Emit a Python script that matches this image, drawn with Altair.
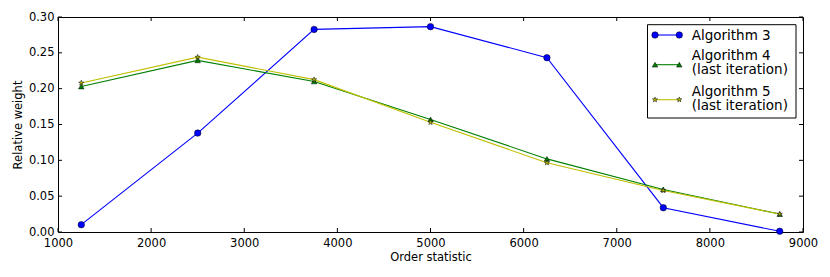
import altair as alt
import pandas as pd

x_vals = [1250, 2500, 3750, 5000, 6250, 7500, 8750]
alg3 = [0.0102, 0.138, 0.2827, 0.2865, 0.2433, 0.0339, 0.001]
alg4 = [0.203, 0.2395, 0.210, 0.157, 0.102, 0.0594, 0.025]
alg5 = [0.208, 0.244, 0.2126, 0.153, 0.0966, 0.058, 0.025]
series_names = ["Algorithm 3", "Algorithm 4", "Algorithm 5"]
legend_lines = [["Algorithm 3"], ["Algorithm 4", "(last iteration)"], ["Algorithm 5", "(last iteration)"]]
x_ticks = [1000, 2000, 3000, 4000, 5000, 6000, 7000, 8000, 9000]
y_ticks = [0.0, 0.05, 0.10, 0.15, 0.20, 0.25, 0.30]

W, H = 745, 215
FONT = "DejaVu Sans"

STAR = ("M0,-1L0.2245,-0.309L0.951,-0.309L0.363,0.118L0.588,0.809L0,0.382"
        "L-0.588,0.809L-0.363,0.118L-0.951,-0.309L-0.2245,-0.309Z")
colors = ["#0000ff", "#008000", "#bfbf00"]
shapes = ["circle", "triangle-up", STAR]
sizes = [42, 30, 30]

xs = alt.Scale(domain=[1000, 9000], nice=False, zero=False)
ys = alt.Scale(domain=[0, 0.30], nice=False)

x_axis = alt.Axis(values=x_ticks, format="d", title="Order statistic",
                  grid=False, ticks=False, domain=False,
                  labelFlush=False, labelOverlap=False,
                  labelPadding=5, titlePadding=3)
y_axis = alt.Axis(values=y_ticks, format=".2f", title="Relative weight",
                  grid=False, ticks=False, domain=False,
                  labelFlush=False, labelOverlap=False,
                  labelPadding=4, titlePadding=5)

layers = []
for i, (name, vals) in enumerate(zip(series_names, [alg3, alg4, alg5])):
    df = pd.DataFrame({"x": x_vals, "y": vals, "s": name})
    base = alt.Chart(df).encode(
        x=alt.X("x:Q", scale=xs, axis=x_axis),
        y=alt.Y("y:Q", scale=ys, axis=y_axis),
    )
    layers.append(base.mark_line(color=colors[i], strokeWidth=1.1))
    layers.append(base.mark_point(shape=shapes[i], filled=True, fill=colors[i],
                                  stroke="black", strokeWidth=0.5, size=sizes[i], opacity=1))

# inside ticks on all four sides
xt = pd.DataFrame({"v": x_ticks})
yt = pd.DataFrame({"v": y_ticks})
tick_style = dict(color="black", strokeWidth=1)
layers.append(alt.Chart(xt).mark_rule(**tick_style).encode(
    x=alt.X("v:Q", scale=xs, axis=x_axis), y=alt.value(H), y2=alt.value(H - 4)))
layers.append(alt.Chart(xt).mark_rule(**tick_style).encode(
    x=alt.X("v:Q", scale=xs, axis=x_axis), y=alt.value(0), y2=alt.value(4)))
layers.append(alt.Chart(yt).mark_rule(**tick_style).encode(
    y=alt.Y("v:Q", scale=ys, axis=y_axis), x=alt.value(0), x2=alt.value(4)))
layers.append(alt.Chart(yt).mark_rule(**tick_style).encode(
    y=alt.Y("v:Q", scale=ys, axis=y_axis), x=alt.value(W), x2=alt.value(W - 4)))

# legend box
one = pd.DataFrame({"a": [0]})
layers.append(alt.Chart(one).mark_rect(fill="white", stroke="black", strokeWidth=1).encode(
    x=alt.value(589.5), x2=alt.value(738), y=alt.value(7.7), y2=alt.value(101)))

marker_y = [18, 47.7, 82.7]
text_baselines = [22.7, 42.7, 78.7]
for i in range(3):
    layers.append(alt.Chart(one).mark_rule(color=colors[i], strokeWidth=1.1).encode(
        x=alt.value(597), x2=alt.value(621.3), y=alt.value(marker_y[i])))
    for mx in (597, 621.3):
        layers.append(alt.Chart(one).mark_point(shape=shapes[i], filled=True, fill=colors[i],
                                                stroke="black", strokeWidth=0.5,
                                                size=sizes[i], opacity=1).encode(
            x=alt.value(mx), y=alt.value(marker_y[i])))
    txt = legend_lines[i] if len(legend_lines[i]) > 1 else legend_lines[i][0]
    layers.append(alt.Chart(one).mark_text(text=txt, align="left", baseline="alphabetic",
                                           lineHeight=14, font=FONT, fontSize=13.5,
                                           color="black").encode(
        x=alt.value(633.7), y=alt.value(text_baselines[i])))

chart = alt.layer(*layers).properties(
    width=W, height=H,
    autosize=alt.AutoSizeParams(type="none"),
    padding={"left": 50, "top": 9, "right": 18, "bottom": 37},
).configure_view(
    stroke="black", strokeWidth=1
).configure_axis(
    labelFont=FONT, titleFont=FONT, labelFontSize=11.5, titleFontSize=11.5,
    labelColor="black", titleColor="black", titleFontWeight="normal",
)

chart.save("out.html", embed_options={"renderer": "svg", "actions": False})
